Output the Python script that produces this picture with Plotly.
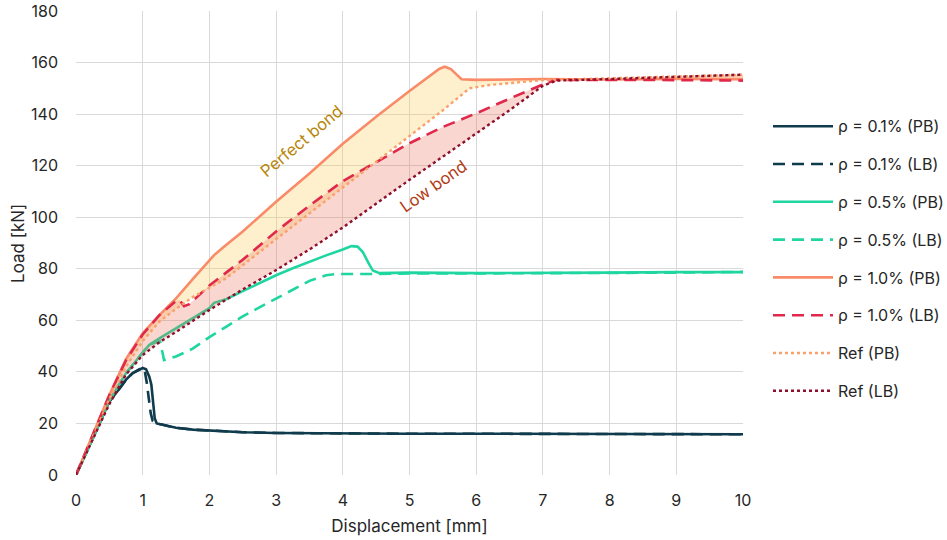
import numpy as np
import plotly.graph_objects as go

# ---------------- data ----------------
# rho = 0.1 % perfect bond (PB) / low bond (LB)
x_01_pb = [0, 0.25, 0.5, 0.65, 0.75, 0.85, 0.95, 1.0, 1.05, 1.1, 1.13, 1.16, 1.18, 1.21, 1.3, 1.5, 1.75, 2, 2.5, 3, 4, 5, 6, 7, 8, 9, 10]
y_01_pb = [0, 14.5, 28.5, 33.5, 37, 39.5, 41, 41.5, 41, 38, 35, 28, 22, 20, 19.5, 18.3, 17.6, 17.2, 16.6, 16.3, 16.1, 16, 16, 15.9, 15.9, 15.9, 15.8]
x_01_lb = [0, 0.25, 0.5, 0.65, 0.75, 0.85, 0.95, 1.0, 1.03, 1.06, 1.09, 1.12, 1.15, 1.2, 1.3, 1.5, 1.75, 2, 2.5, 3, 4, 5, 6, 7, 8, 9, 10]
y_01_lb = [0, 14.5, 28.5, 33.5, 37, 39.5, 41, 41.3, 40.5, 36, 30, 24, 21, 20, 19.5, 18.3, 17.6, 17.2, 16.6, 16.3, 16.1, 16, 16, 15.9, 15.9, 15.9, 15.8]

# rho = 0.5 %
x_05_pb = [0, 0.25, 0.5, 0.75, 1, 1.1, 1.25, 1.5, 1.75, 2, 2.07, 2.25, 2.5, 2.75, 3, 3.25, 3.5, 3.75, 4, 4.13, 4.22, 4.3, 4.38, 4.45, 4.55, 5, 6, 7, 8, 9, 10]
y_05_pb = [0, 14, 29, 39.5, 47.5, 50.5, 53, 57, 61, 64.7, 66.8, 68.2, 71.3, 74.5, 77.5, 80.2, 82.8, 85.2, 87.5, 88.8, 88.6, 86.5, 82.5, 79.3, 78.3, 78.5, 78.3, 78.3, 78.5, 78.7, 78.7]
x_05_lb = [0, 0.25, 0.5, 0.75, 1, 1.1, 1.2, 1.26, 1.32, 1.5, 1.75, 2, 2.25, 2.5, 2.75, 3, 3.25, 3.5, 3.75, 3.9, 4.5, 5, 6, 7, 8, 9, 10]
y_05_lb = [0, 14, 29, 39.5, 47.5, 50.5, 51.5, 52, 44.6, 46, 49, 53.5, 57.5, 61.5, 65, 68.5, 72, 75.3, 77.5, 78, 78, 78.2, 78.2, 78.2, 78.4, 78.5, 78.8]

# rho = 1.0 %
x_10_pb = [0, 0.25, 0.5, 0.75, 1, 1.25, 1.5, 1.75, 2, 2.07, 2.25, 2.5, 3, 3.5, 4, 4.5, 5, 5.3, 5.45, 5.53, 5.62, 5.7, 5.78, 6, 7, 8, 9, 10]
y_10_pb = [0, 15.5, 31, 45, 55, 62, 68.5, 76, 83.4, 85.3, 89.2, 94.5, 106, 117, 128.5, 139, 149, 154.5, 157.6, 158.4, 157.5, 155.5, 153.5, 153.3, 153.6, 153.4, 153.6, 153.5]
x_10_lb = [0, 0.25, 0.5, 0.75, 1, 1.25, 1.5, 1.55, 1.62, 1.7, 2, 2.25, 2.5, 3, 3.5, 4, 4.5, 5, 5.5, 6, 6.5, 7, 7.2, 8, 9, 10]
y_10_lb = [0, 15.5, 31, 44.5, 54.5, 62, 67.5, 68, 65.5, 66.3, 73.5, 78.5, 83.5, 94.5, 104.5, 114, 121.5, 128.7, 135, 140.3, 146, 151.5, 153.3, 153.3, 153.2, 153]

# reference curves
x_ref_pb = [0, 0.25, 0.5, 0.75, 1, 1.25, 1.5, 1.75, 2, 2.25, 3, 4, 4.5, 5, 5.5, 5.9, 6.2, 7, 8, 9, 10]
y_ref_pb = [0, 15, 29.5, 42, 52, 59.5, 64.5, 69, 72.5, 76.3, 91.5, 111.5, 121.5, 131.5, 141.5, 150, 151.3, 153.2, 153.8, 154.6, 155.3]
x_ref_lb = [0, 0.25, 0.5, 0.75, 1, 1.25, 1.5, 2, 2.5, 3, 3.5, 4, 4.5, 5, 5.5, 6, 6.5, 7, 7.2, 8, 9, 10]
y_ref_lb = [0, 13.5, 27.5, 39, 46.5, 51.5, 55.5, 64, 72, 79.5, 87.5, 96, 105.3, 114.5, 123.5, 132.5, 141.5, 151, 153, 153.6, 154.5, 155.3]

series_names = ["ρ = 0.1% (PB)", "ρ = 0.1% (LB)", "ρ = 0.5% (PB)", "ρ = 0.5% (LB)",
                "ρ = 1.0% (PB)", "ρ = 1.0% (LB)", "Ref (PB)", "Ref (LB)"]
x_ticks = list(range(0, 11))
y_ticks = list(range(0, 181, 20))

# ---------------- styles ----------------
C_DARK = "#0f3b4c"
C_GREEN = "#1fd6a0"
C_ORANGE = "#f98b68"
C_RED = "#e0284a"
C_REFPB = "#f8a16c"
C_REFLB = "#8e0f2c"
DASH = "12px,7px"
FONT = "Inter, Lato, sans-serif"
TXT = "#262626"

fig = go.Figure()

def line(x, y, name, color, dash="solid", width=2.6):
    fig.add_trace(go.Scatter(x=x, y=y, name=name, mode="lines",
                             line=dict(color=color, width=width, dash=dash),
                             legendgroup=name, hoverinfo="skip"))

line(x_01_pb, y_01_pb, series_names[0], C_DARK)
line(x_01_lb, y_01_lb, series_names[1], C_DARK, DASH)
line(x_05_pb, y_05_pb, series_names[2], C_GREEN)
line(x_05_lb, y_05_lb, series_names[3], C_GREEN, DASH)

# shaded bands (perfect bond: 1.0% PB vs Ref PB; low bond: 1.0% LB vs Ref LB)
fig.add_trace(go.Scatter(
    x=np.concatenate([x_10_pb, x_ref_pb[::-1]]),
    y=np.concatenate([y_10_pb, y_ref_pb[::-1]]),
    fill="toself", fillcolor="rgba(255,205,90,0.30)", mode="none",
    showlegend=False, hoverinfo="skip"))
fig.add_trace(go.Scatter(
    x=np.concatenate([x_10_lb, x_ref_lb[::-1]]),
    y=np.concatenate([y_10_lb, y_ref_lb[::-1]]),
    fill="toself", fillcolor="rgba(235,110,85,0.28)", mode="none",
    showlegend=False, hoverinfo="skip"))

line(x_10_pb, y_10_pb, series_names[4], C_ORANGE)
line(x_10_lb, y_10_lb, series_names[5], C_RED, DASH)
line(x_ref_pb, y_ref_pb, series_names[6], C_REFPB, "dot", 2.4)
line(x_ref_lb, y_ref_lb, series_names[7], C_REFLB, "dot", 2.4)

fig.add_annotation(x=3.38, y=129.5, text="Perfect bond", showarrow=False,
                   textangle=-40, font=dict(family=FONT, size=16.5, color="#b8860b"))
fig.add_annotation(x=5.36, y=112, text="Low bond", showarrow=False,
                   textangle=-35, font=dict(family=FONT, size=16.5, color="#b33a14"))
# y-axis title, placed at a fixed distance left of the plot area
fig.add_annotation(xref="paper", yref="paper", x=-0.087, y=0.5, xanchor="center", yanchor="middle",
                   text="Load [kN]", showarrow=False, textangle=-90,
                   font=dict(family=FONT, size=17, color=TXT))

axis_common = dict(showgrid=True, gridcolor="#d9d9d9", gridwidth=1,
                   zeroline=False, showline=False, ticks="", automargin=False,
                   ticklabeloverflow="allow",
                   tickfont=dict(family=FONT, size=16, color=TXT))

fig.update_xaxes(range=[0, 10], tickvals=x_ticks, ticklabelstandoff=14, **axis_common,
                 title=dict(text="Displacement [mm]", font=dict(family=FONT, size=17, color=TXT), standoff=11))
fig.update_yaxes(range=[0, 180], tickvals=y_ticks, ticklabelstandoff=17, **axis_common)

fig.update_layout(
    width=947, height=540,
    margin=dict(l=76, r=204, t=11, b=65, autoexpand=False),
    paper_bgcolor="white", plot_bgcolor="white",
    font=dict(family=FONT, size=16, color=TXT),
    showlegend=True,
    legend=dict(x=1.0375, xanchor="left", y=0.466, yanchor="middle",
                font=dict(family=FONT, size=16, color=TXT),
                itemwidth=60, tracegroupgap=14, bgcolor="rgba(0,0,0,0)"),
)

# remove the default 8 px page margin so the figure fills the window exactly
fig.write_html("out.html", config={"displayModeBar": False},
               post_script="document.body.style.margin='0';")
